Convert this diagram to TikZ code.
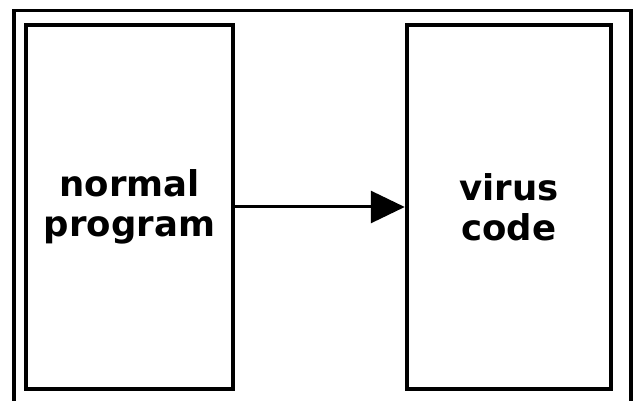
\documentclass[tikz,border=0pt]{standalone}
\usepackage{fontspec}
\setmainfont{DejaVu Sans}
\usetikzlibrary{arrows.meta}
\begin{document}
\begin{tikzpicture}[x=1pt,y=-1pt,
  box/.style={draw=black,line width=4.5pt,minimum height=364pt,inner sep=0pt,
    align=center,font=\fontsize{35.5}{40}\selectfont\bfseries},
  conn/.style={line width=3pt,-{Triangle[length=34pt,width=32pt]}},
  frame/.style={line width=3.5pt,line join=miter}]
\useasboundingbox (0,0) rectangle (635,401);
\draw[frame] (14,405) -- (14,10.5) -- (631,10.5) -- (631,405);
\node[box,minimum width=207pt] (L) at (129.5,207) {normal\\program};
\node[box,minimum width=204pt] (R) at (509,207) {virus\\code};
\draw[conn] (L.east) -- (R.west);
\end{tikzpicture}
\end{document}
